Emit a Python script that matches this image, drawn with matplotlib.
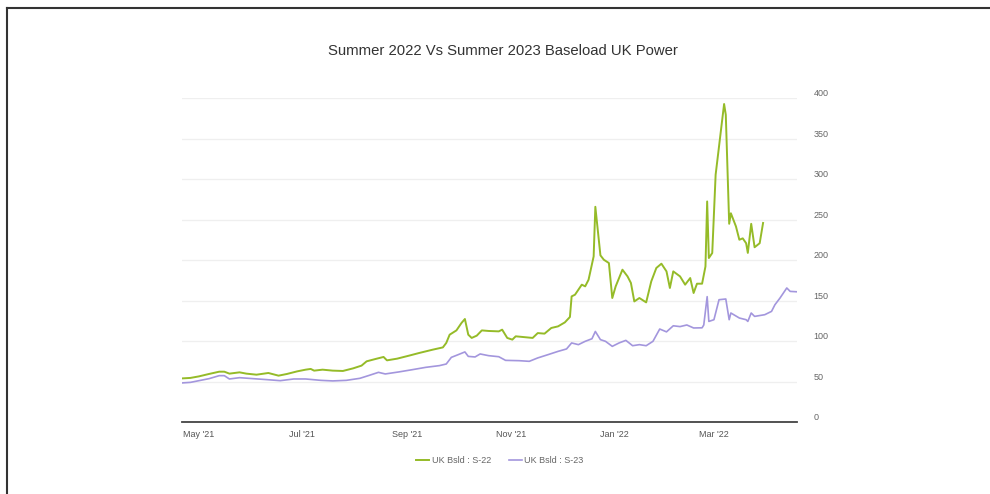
import matplotlib
matplotlib.use("Agg")
import matplotlib.pyplot as plt
import matplotlib.dates as mdates
from matplotlib.lines import Line2D
import pandas as pd

TITLE = "Summer 2022 Vs Summer 2023 Baseload UK Power"

s22_dates = [
    "2021-04-21", "2021-04-26", "2021-05-01", "2021-05-07", "2021-05-13", "2021-05-16",
    "2021-05-19", "2021-05-25", "2021-05-29", "2021-06-04", "2021-06-11", "2021-06-17",
    "2021-06-22", "2021-06-28", "2021-07-03", "2021-07-06", "2021-07-08", "2021-07-13",
    "2021-07-19", "2021-07-25", "2021-07-31", "2021-08-05", "2021-08-08", "2021-08-14",
    "2021-08-18", "2021-08-20", "2021-08-26", "2021-09-02", "2021-09-08", "2021-09-16",
    "2021-09-22", "2021-09-24", "2021-09-26", "2021-09-30", "2021-10-03", "2021-10-05",
    "2021-10-07", "2021-10-09", "2021-10-12", "2021-10-15", "2021-10-19", "2021-10-25",
    "2021-10-27", "2021-10-30", "2021-11-02", "2021-11-04", "2021-11-08", "2021-11-14",
    "2021-11-17", "2021-11-21", "2021-11-25", "2021-11-29", "2021-12-03", "2021-12-06",
    "2021-12-07", "2021-12-09", "2021-12-11", "2021-12-13", "2021-12-15", "2021-12-17",
    "2021-12-20", "2021-12-21", "2021-12-24", "2021-12-26", "2021-12-29", "2021-12-31",
    "2022-01-02", "2022-01-06", "2022-01-09", "2022-01-11", "2022-01-13", "2022-01-16",
    "2022-01-20", "2022-01-23", "2022-01-26", "2022-01-29", "2022-02-01", "2022-02-03",
    "2022-02-05", "2022-02-09", "2022-02-12", "2022-02-15", "2022-02-17", "2022-02-19",
    "2022-02-22", "2022-02-24", "2022-02-25", "2022-02-26", "2022-02-28", "2022-03-02",
    "2022-03-04", "2022-03-07", "2022-03-08", "2022-03-10", "2022-03-11", "2022-03-14",
    "2022-03-16", "2022-03-18", "2022-03-20", "2022-03-21", "2022-03-23", "2022-03-25",
    "2022-03-28", "2022-03-30",
]
s22_values = [
    54, 54.6, 56.5, 59.5, 62.3, 62.3,
    59.9, 61.5, 59.9, 58.6, 60.7, 57.4,
    59.5, 62.7, 64.8, 65.7, 63.6, 64.8,
    63.6, 63.2, 66.4, 69.8, 75.1, 78.4,
    80.5, 76.3, 78.4, 82.1, 85.4, 89.5,
    92.3, 97.8, 108, 113.3, 122.5, 127.4,
    108, 104, 106.8, 113.3, 112.6, 112.1,
    114.2, 104, 101.9, 106, 105.2, 104,
    110, 109.3, 116.3, 118.3, 123.2, 129.9,
    155.3, 157.4, 163.6, 169.8, 167.7, 175.9,
    204.7, 266, 206, 200.6, 196.5, 153.3,
    167.7, 188.3, 180, 171.9, 149.1, 153.3,
    147.9, 173.8, 190.4, 195.7, 186.2, 165.7,
    186.2, 180, 169.8, 178, 159.5, 171,
    171, 192.3, 272.6, 202.7, 208.9, 305.6,
    340.5, 393, 379.6, 245, 258, 241.7,
    225.3, 227, 221, 209, 245, 216,
    221, 246,
]

s23_dates = [
    "2021-04-21", "2021-04-26", "2021-05-01", "2021-05-07", "2021-05-13", "2021-05-16",
    "2021-05-19", "2021-05-25", "2021-06-02", "2021-06-10", "2021-06-18", "2021-06-26",
    "2021-07-03", "2021-07-12", "2021-07-19", "2021-07-27", "2021-08-04", "2021-08-09",
    "2021-08-15", "2021-08-19", "2021-08-27", "2021-09-04", "2021-09-12", "2021-09-20",
    "2021-09-24", "2021-09-27", "2021-10-01", "2021-10-05", "2021-10-07", "2021-10-11",
    "2021-10-14", "2021-10-19", "2021-10-25", "2021-10-29", "2021-11-06", "2021-11-12",
    "2021-11-17", "2021-11-23", "2021-11-29", "2021-12-04", "2021-12-07", "2021-12-11",
    "2021-12-15", "2021-12-19", "2021-12-21", "2021-12-24", "2021-12-27", "2021-12-31",
    "2022-01-04", "2022-01-08", "2022-01-12", "2022-01-16", "2022-01-20", "2022-01-24",
    "2022-01-28", "2022-02-01", "2022-02-05", "2022-02-09", "2022-02-13", "2022-02-17",
    "2022-02-22", "2022-02-23", "2022-02-25", "2022-02-26", "2022-03-01", "2022-03-04",
    "2022-03-08", "2022-03-10", "2022-03-11", "2022-03-16", "2022-03-20", "2022-03-21",
    "2022-03-23", "2022-03-25", "2022-03-31", "2022-04-04", "2022-04-06", "2022-04-09",
    "2022-04-13", "2022-04-15", "2022-04-19",
]
s23_values = [
    48.4, 49.1, 51.2, 53.7, 57.4, 57.4,
    53.3, 54.9, 53.7, 52.5, 51.2, 53.3,
    53.3, 51.6, 50.9, 51.6, 54.1, 57.4,
    61.5, 59.5, 62, 64.8, 67.7, 69.8,
    71.8, 80, 83.3, 86.7, 81.2, 80.5,
    84.2, 82.1, 80.8, 76.3, 75.9, 75.1,
    79.3, 83.3, 87.4, 90.4, 97.8, 95.7,
    99.8, 103, 112, 101.9, 99.8, 93.6,
    97.8, 101, 94.4, 95.7, 94.4, 99.8,
    115, 111.5, 119, 118, 120, 116.3,
    116.5, 120, 155, 124.4, 126.5, 151.2,
    152.1, 126.5, 134.8, 128.6, 126.5, 124.4,
    134.8, 130.6, 132.7, 136.8, 145, 153.3,
    165.7, 161.5, 161,
]

y_ticks = [0, 50, 100, 150, 200, 250, 300, 350, 400]
x_tick_dates = ["2021-05-01", "2021-07-01", "2021-09-01", "2021-11-01", "2022-01-01", "2022-03-01"]
legend_labels = ["UK Bsld : S-22", "UK Bsld : S-23"]

GREEN = "#95bb28"
PURPLE = "#a396dd"

plt.rcParams["font.family"] = ["Liberation Sans", "DejaVu Sans"]

fig = plt.figure(figsize=(9.9, 4.94), dpi=100)
ax = fig.add_axes([0.1838, 0.1455, 0.6212, 0.6555])

s22 = pd.Series(s22_values, index=pd.to_datetime(s22_dates))
s23 = pd.Series(s23_values, index=pd.to_datetime(s23_dates))

l1, = ax.plot(s22.index, s22.values, color=GREEN, lw=1.4, label=legend_labels[0])
l2, = ax.plot(s23.index, s23.values, color=PURPLE, lw=1.2, label=legend_labels[1])

ax.set_xlim(pd.Timestamp(s22_dates[0]), pd.Timestamp(s23_dates[-1]))
ax.set_ylim(0, 400)
ax.set_yticks(y_ticks)
ax.yaxis.tick_right()
ax.grid(axis="y", color="#efefef", lw=0.9)
ax.set_axisbelow(True)
ax.tick_params(axis="y", length=0, labelsize=6.5, labelcolor="#666666", pad=12)
for lbl in ax.get_yticklabels():
    lbl.set_va("bottom")

ax.set_xticks(pd.to_datetime(x_tick_dates))
ax.xaxis.set_major_formatter(mdates.DateFormatter("%b '%y"))
ax.tick_params(axis="x", length=0, labelsize=6.5, labelcolor="#555555", pad=6)

for side in ["top", "right", "left"]:
    ax.spines[side].set_visible(False)
ax.spines["bottom"].set_color("#444444")
ax.spines["bottom"].set_linewidth(1.3)

fig.text(0.508, 0.896, TITLE, ha="center", va="center", fontsize=10.7, color="#333333")

leg = fig.legend(handles=[l1, l2], loc="center", bbox_to_anchor=(0.505, 0.067), ncol=2,
                 frameon=False, fontsize=6.5, handlelength=1.4, handletextpad=0.3,
                 columnspacing=2.0)
for t in leg.get_texts():
    t.set_color("#666666")

# frame around the screenshot
fig.add_artist(Line2D([0.0075, 1.0], [0.9835, 0.9835], color="#333333", lw=1.5))
fig.add_artist(Line2D([0.0075, 0.0075], [0.0, 0.9835], color="#333333", lw=1.5))

fig.savefig("out.png", dpi=100)
